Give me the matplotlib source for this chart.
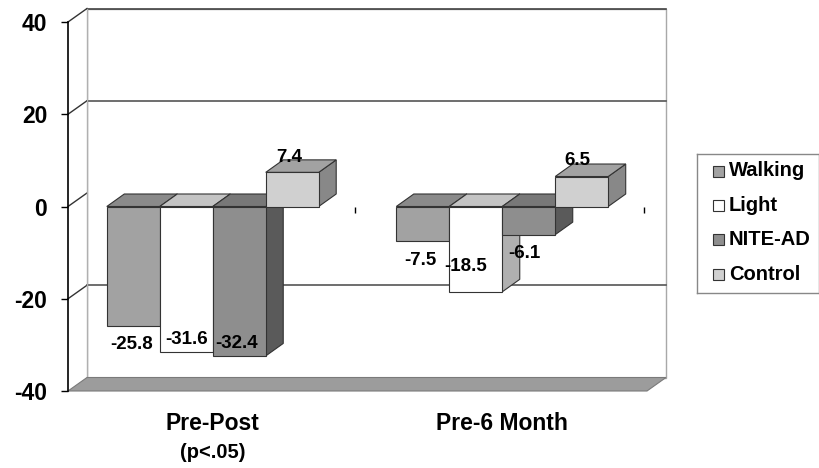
import matplotlib.pyplot as plt
from matplotlib.patches import Polygon, Rectangle

plt.rcParams["font.family"] = ["Liberation Sans", "DejaVu Sans"]
plt.rcParams["font.weight"] = "bold"

categories = ["Pre-Post", "Pre-6 Month"]
series = ["Walking", "Light", "NITE-AD", "Control"]
walking = [-25.8, -7.5]
light = [-31.6, -18.5]
nite_ad = [-32.4, -6.1]
control = [7.4, 6.5]
values = [walking, light, nite_ad, control]
yticks = [-40, -20, 0, 20, 40]

# shades for each box: front, top, side
front_colors = ["#a2a2a2", "#ffffff", "#8e8e8e", "#d0d0d0"]
top_colors = ["#8a8a8a", "#c4c4c4", "#787878", "#a2a2a2"]
side_colors = ["#767676", "#b0b0b0", "#5a5a5a", "#888888"]

# label nudges (value units / category units); crowded labels sit inside the bars
label_dy = [[-4.1, -4.1], [2.8, 5.4], [2.7, -4.0], [3.2, 3.4]]
label_dx = [[-0.007, -0.007], [0.0, -0.035], [-0.008, -0.015], [-0.009, -0.015]]

fig = plt.figure(figsize=(8.2, 4.68), dpi=100)
ax = fig.add_axes([68 / 820, 1 - 391 / 468, 579 / 820, 369 / 468])
ax.set_xlim(0, 2)
ax.set_ylim(-40, 40)

# depth of the walls and of the boxes
wdx, wdy = 19 / 289.5, 13.5 / 4.6125
bdx, bdy = 17.5 / 289.5, 12.5 / 4.6125

# back wall
ax.add_patch(Polygon([(wdx, -40 + wdy), (2 + wdx, -40 + wdy), (2 + wdx, 40 + wdy), (wdx, 40 + wdy)],
                     closed=True, fc="white", ec="#a8a8a8", lw=1, clip_on=False, zorder=0))
ax.plot([wdx, 2 + wdx], [40 + wdy, 40 + wdy], color="#444444", lw=1.2, clip_on=False, zorder=1)
for g in [20, -20]:
    ax.plot([wdx, 2 + wdx], [g + wdy, g + wdy], color="#555555", lw=1.2, clip_on=False, zorder=1)

# side wall with its tick diagonals
ax.add_patch(Polygon([(0, -40), (wdx, -40 + wdy), (wdx, 40 + wdy), (0, 40)],
                     closed=True, fc="white", ec="none", clip_on=False, zorder=0.5))
for t in yticks[1:]:
    ax.plot([0, wdx], [t, t + wdy], color="#333333", lw=1, clip_on=False, zorder=1)
ax.plot([wdx, wdx], [-40 + wdy, 40 + wdy], color="#b0b0b0", lw=1, clip_on=False, zorder=1)

# floor
ax.add_patch(Polygon([(0, -40), (2, -40), (2 + wdx, -40 + wdy), (wdx, -40 + wdy)],
                     closed=True, fc="#9c9c9c", ec="#7a7a7a", lw=0.8, clip_on=False, zorder=1.5))

# boxes
n = len(series)
width = 0.183
centers = [i + 0.5 for i in range(len(categories))]
for s in range(n):
    xs = [c - n * width / 2 + s * width for c in centers]
    for x0, v in zip(xs, values[s]):
        lo, hi = min(0, v), max(0, v)
        ax.add_patch(Polygon([(x0 + width, lo), (x0 + width + bdx, lo + bdy),
                              (x0 + width + bdx, hi + bdy), (x0 + width, hi)],
                             closed=True, fc=side_colors[s], ec="#333333", lw=0.8,
                             clip_on=False, zorder=3))
        ax.add_patch(Polygon([(x0, hi), (x0 + bdx, hi + bdy),
                              (x0 + width + bdx, hi + bdy), (x0 + width, hi)],
                             closed=True, fc=top_colors[s], ec="#333333", lw=0.8,
                             clip_on=False, zorder=3))
    ax.bar(xs, values[s], width=width, align="edge", color=front_colors[s],
           edgecolor="#333333", linewidth=0.8, zorder=4, clip_on=False)
    for k, (x0, v) in enumerate(zip(xs, values[s])):
        ax.text(x0 + width / 2 + label_dx[s][k], v + label_dy[s][k], f"{v:.1f}",
                ha="center", va="center", fontsize=13.5, fontweight="bold", zorder=6)

# category tick marks on the zero line
ax.vlines([1 - 0.01, 2 - 0.01], -1.5, -0.1, color="black", lw=1, zorder=2)

# axes styling
for side in ["top", "right", "bottom"]:
    ax.spines[side].set_visible(False)
ax.spines["left"].set_linewidth(1.2)
ax.spines["left"].set_zorder(2)
ax.set_facecolor("none")
ax.set_yticks(yticks)
ax.set_yticklabels([str(t) for t in yticks])
ax.tick_params(axis="y", length=5, width=1, pad=10, labelsize=16.5)
ax.set_xticks(centers)
ax.set_xticklabels(categories, fontsize=16.5, fontweight="bold")
ax.tick_params(axis="x", length=0, pad=15)
ax.text(centers[0], -53.3, "(p<.05)", ha="center", va="center", fontsize=14.5,
        fontweight="bold", clip_on=False)

# legend box, laid out in pixel units
lax = fig.add_axes([697 / 820, 1 - 293 / 468, 122 / 820, 139 / 468])
lax.set_xlim(0, 122)
lax.set_ylim(139, 0)
lax.set_xticks([])
lax.set_yticks([])
for sp in lax.spines.values():
    sp.set_edgecolor("#888888")
    sp.set_linewidth(1)
for s in range(n):
    yc = 17 + 34.4 * s
    lax.add_patch(Rectangle((16, yc - 5.5), 11, 11, fc=front_colors[s], ec="#333333", lw=0.8))
    lax.text(32, yc, series[s], ha="left", va="center", fontsize=14.5, fontweight="bold")

fig.savefig("out.png", dpi=100)
